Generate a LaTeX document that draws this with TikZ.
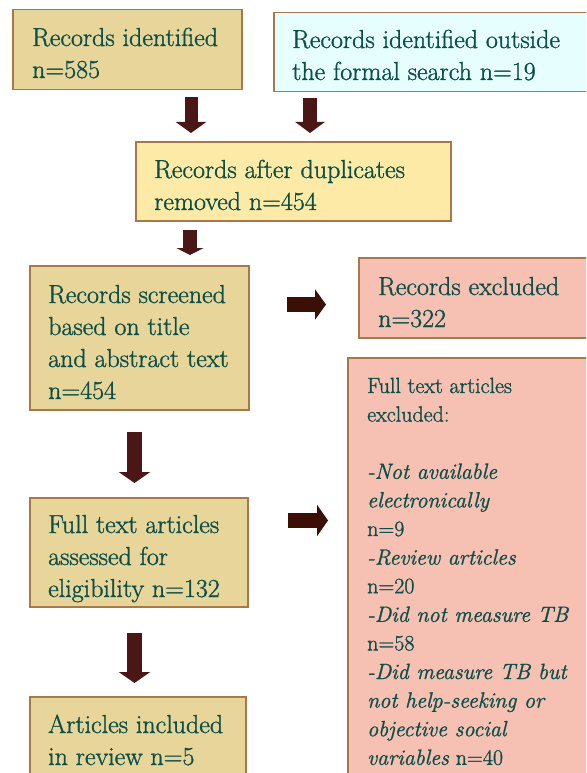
\documentclass[tikz,border=0pt]{standalone}
\usepackage{fontspec}
\setmainfont{Latin Modern Roman}[FakeBold=1.2, ItalicFeatures={FakeBold=1.2}]
\usetikzlibrary{arrows.meta}
\definecolor{tanfill}{RGB}{232,213,154}
\definecolor{yelfill}{RGB}{253,234,166}
\definecolor{cyanfill}{RGB}{230,254,254}
\definecolor{pinkfill}{RGB}{246,192,178}
\definecolor{boxborder}{RGB}{168,120,74}
\definecolor{textc}{RGB}{12,78,72}
\definecolor{downarrow}{RGB}{74,22,22}
\definecolor{rightarrow}{RGB}{59,15,5}
\tikzset{
  box/.style={draw=boxborder, line width=1.5pt, inner sep=0pt, anchor=north west},
  txt/.style={inner sep=0pt, anchor=base west, text=textc, font=\fontsize{26}{32}\selectfont},
  smalltxt/.style={txt, font=\fontsize{22}{28.6}\selectfont},
  downblock/.style={draw=downarrow, line width=#1},
  rightblock/.style={draw=rightarrow, line width=#1},
}
\begin{document}
\begin{tikzpicture}[x=1pt,y=-1pt]
\clip (0,0) rectangle (586,773);
\fill[white] (0,0) rectangle (586,773);
% boxes
\node[box, fill=tanfill, minimum width=229pt, minimum height=80pt] (b1) at (12,9) {};
\node[box, fill=cyanfill, minimum width=330pt, minimum height=79pt] (b2) at (273,12) {};
\node[box, fill=yelfill, minimum width=315pt, minimum height=79pt] (b3) at (135,141) {};
\node[box, fill=tanfill, minimum width=219pt, minimum height=144pt] (b4) at (29,265) {};
\node[box, fill=pinkfill, minimum width=245pt, minimum height=80pt] (b5) at (358,257) {};
\node[box, fill=pinkfill, minimum width=256pt, minimum height=440pt] (b6) at (347,357) {};
\node[box, fill=tanfill, minimum width=218pt, minimum height=109pt] (b7) at (29,497) {};
\node[box, fill=tanfill, minimum width=216pt, minimum height=100pt] (b8) at (29,696) {};
% texts
\node[txt] (t1) at (32,46) {\parbox[t]{220pt}{Records identified\\n=585}};
\node[txt] (t2) at (292,48) {\parbox[t]{300pt}{Records identified outside\\the formal search n=19}};
\node[txt] (t3) at (154,178) {\parbox[t]{300pt}{Records after duplicates\\removed n=454}};
\node[txt] (t4) at (48,303) {\parbox[t]{200pt}{Records screened\\based on title\\and abstract text\\n=454}};
\node[txt] (t5) at (378,295) {\parbox[t]{220pt}{Records excluded\\n=322}};
\node[smalltxt] (t6) at (367,393) {\parbox[t]{230pt}{Full text articles\\excluded:\\[28.6pt]
\textit{-Not available}\\\textit{electronically}\\n=9\\\textit{-Review articles}\\n=20\\\textit{-Did not measure TB}\\n=58\\\textit{-Did measure TB but}\\\textit{not help-seeking or}\\\textit{objective social}\\\textit{variables} n=40}};
\node[txt] (t7) at (48,533) {\parbox[t]{200pt}{Full text articles\\assessed for\\eligibility n=132}};
\node[txt] (t8) at (48,733) {\parbox[t]{200pt}{Articles included\\in review n=5}};
% arrow ends
\coordinate (a1s) at (191,97);   \coordinate (a1e) at (191,133);
\coordinate (a2s) at (310,98);   \coordinate (a2e) at (310,133);
\coordinate (a3s) at (190,230);  \coordinate (a3e) at (190,255);
\coordinate (a4s) at (287,304.5); \coordinate (a4e) at (326,304.5);
\coordinate (a5s) at (134.5,432); \coordinate (a5e) at (134.5,483);
\coordinate (a6s) at (288,520.5); \coordinate (a6e) at (328,520.5);
\coordinate (a7s) at (134.5,633); \coordinate (a7e) at (134.5,683);
% block arrows
\draw[downblock=13pt, -{Triangle[width=30pt,length=11pt]}] (a1s) -- (a1e);
\draw[downblock=14pt, -{Triangle[width=29pt,length=11pt]}] (a2s) -- (a2e);
\draw[downblock=14pt, -{Triangle[width=27pt,length=7pt]}] (a3s) -- (a3e);
\draw[rightblock=15pt, -{Triangle[width=30pt,length=11pt]}] (a4s) -- (a4e);
\draw[downblock=15pt, -{Triangle[width=31pt,length=11pt]}] (a5s) -- (a5e);
\draw[rightblock=15pt, -{Triangle[width=31pt,length=11pt]}] (a6s) -- (a6e);
\draw[downblock=15pt, -{Triangle[width=31pt,length=11pt]}] (a7s) -- (a7e);
\end{tikzpicture}
\end{document}
